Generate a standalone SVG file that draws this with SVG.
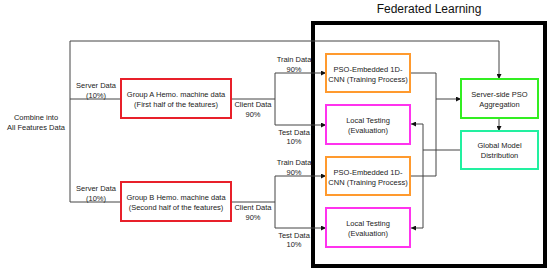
<svg xmlns="http://www.w3.org/2000/svg" width="550" height="271" viewBox="0 0 550 271">
<defs>
<marker id="ah" viewBox="0 0 10 10" refX="10" refY="5" markerWidth="5" markerHeight="5" orient="auto" markerUnits="userSpaceOnUse">
<path d="M0,0 L10,5 L0,10 z" fill="#111"/>
</marker>
<style>
text{font-family:"Liberation Sans",Arial,sans-serif;font-size:7.5px;fill:#222;text-anchor:middle}
.title{font-size:12px;fill:#111}
.box{fill:#fff;stroke-width:2}
.red{stroke:#e8202a}
.orange{stroke:#ff9a2e}
.mag{stroke:#ff33ee}
.green{stroke:#33ee22}
.teal{stroke:#22f0a0}
.ln{fill:none;stroke:#444;stroke-width:1}
.arr{marker-end:url(#ah)}
</style>
</defs>
<rect width="550" height="271" fill="#fff"/>

<g id="federated">
<rect x="313" y="23" width="232" height="243" fill="none" stroke="#000" stroke-width="4"/>
<text class="title" x="429" y="13">Federated Learning</text>
</g>

<g id="connectors">
<polyline class="ln" points="70,99 70,202"/>
<polyline class="ln" points="70,99 121,99"/>
<polyline class="ln" points="70,202 121,202"/>
<polyline class="ln arr" points="70,99 70,41 499,41 499,79"/>
<polyline class="ln" points="231,99 275,99"/>
<polyline class="ln arr" points="275,99 275,73 326,73"/>
<polyline class="ln arr" points="275,99 275,125 326,125"/>
<polyline class="ln" points="231,202 275,202"/>
<polyline class="ln arr" points="275,202 275,176 326,176"/>
<polyline class="ln arr" points="275,202 275,228 326,228"/>
<polyline class="ln" points="410,73 436,73 436,176 410,176"/>
<polyline class="ln arr" points="436,99 461,99"/>
<polyline class="ln arr" points="499,118 499,131"/>
<polyline class="ln" points="461,150 423,150"/>
<polyline class="ln arr" points="423,150 423,124 411,124"/>
<polyline class="ln arr" points="423,150 423,228 411,228"/>
</g>

<g id="combine">
<text x="36" y="120">Combine into</text>
<text x="36" y="130">All Features Data</text>
</g>

<g id="labelsA">
<text x="96" y="88">Server Data</text>
<text x="96" y="98">(10%)</text>
<text x="253" y="107">Client Data</text>
<text x="253" y="117">90%</text>
<text x="294" y="62">Train Data</text>
<text x="294" y="72">90%</text>
<text x="294" y="135">Test Data</text>
<text x="294" y="144">10%</text>
</g>

<g id="labelsB">
<text x="96" y="191">Server Data</text>
<text x="96" y="201">(10%)</text>
<text x="253" y="210">Client Data</text>
<text x="253" y="220">90%</text>
<text x="294" y="165">Train Data</text>
<text x="294" y="175">90%</text>
<text x="294" y="238">Test Data</text>
<text x="294" y="247">10%</text>
</g>

<g id="groupA">
<rect class="box red" x="121" y="79" width="110" height="39"/>
<text x="176" y="97">Group A Hemo. machine data</text>
<text x="176" y="107">(First half of the features)</text>
</g>

<g id="groupB">
<rect class="box red" x="121" y="182" width="110" height="39"/>
<text x="176" y="200">Group B Hemo. machine data</text>
<text x="176" y="210">(Second half of the features)</text>
</g>

<g id="pso1">
<rect class="box orange" x="326" y="54" width="84" height="38"/>
<text x="368" y="72">PSO-Embedded 1D-</text>
<text x="368" y="82">CNN (Training Process)</text>
</g>

<g id="local1">
<rect class="box mag" x="326" y="105" width="84" height="39"/>
<text x="368" y="123">Local Testing</text>
<text x="368" y="133">(Evaluation)</text>
</g>

<g id="pso2">
<rect class="box orange" x="326" y="157" width="84" height="38"/>
<text x="368" y="175">PSO-Embedded 1D-</text>
<text x="368" y="185">CNN (Training Process)</text>
</g>

<g id="local2">
<rect class="box mag" x="326" y="208" width="84" height="39"/>
<text x="368" y="226">Local Testing</text>
<text x="368" y="236">(Evaluation)</text>
</g>

<g id="aggregation">
<rect class="box green" x="461" y="79" width="77" height="39"/>
<text x="499.5" y="97">Server-side PSO</text>
<text x="499.5" y="107">Aggregation</text>
</g>

<g id="global">
<rect class="box teal" x="461" y="131" width="77" height="38"/>
<text x="499.5" y="148">Global Model</text>
<text x="499.5" y="158">Distribution</text>
</g>
</svg>
